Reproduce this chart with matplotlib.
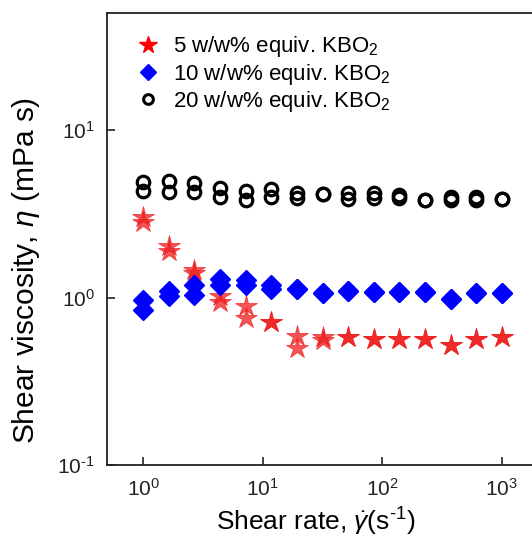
import numpy as np
import matplotlib
matplotlib.use('Agg')
import matplotlib.pyplot as plt
from matplotlib.lines import Line2D
from matplotlib.ticker import LogLocator, NullLocator, FuncFormatter

plt.rcParams['font.family'] = ['Liberation Sans', 'DejaVu Sans']
plt.rcParams['mathtext.fontset'] = 'custom'
plt.rcParams['mathtext.rm'] = 'Liberation Sans'
plt.rcParams['mathtext.it'] = 'Liberation Sans:italic'

# shear rate (1/s)
shear_rate = [1.0, 1.64, 2.68, 4.39, 7.2, 11.8, 19.3, 31.6, 51.8, 84.8,
              139, 228, 373, 611, 1000]

# viscosity (mPa s), two repeat runs per concentration
kbo2_5_a = [3.05, 2.04, 1.47, 1.02, 0.89, 0.72, 0.59, 0.58, 0.58, 0.57,
            0.57, 0.57, 0.52, 0.57, 0.58]
kbo2_5_b = [2.84, 1.90, 1.41, 0.94, 0.76, 0.72, 0.50, 0.56, 0.58, 0.57,
            0.57, 0.57, 0.52, 0.57, 0.58]
kbo2_10_a = [0.97, 1.09, 1.19, 1.29, 1.28, 1.19, 1.12, 1.07, 1.09, 1.08,
             1.08, 1.08, 0.98, 1.07, 1.07]
kbo2_10_b = [0.85, 1.02, 1.04, 1.19, 1.19, 1.12, 1.12, 1.07, 1.09, 1.08,
             1.08, 1.08, 0.98, 1.07, 1.07]
kbo2_20_a = [4.92, 4.97, 4.86, 4.50, 4.35, 4.44, 4.20, 4.14, 4.20, 4.20,
             4.10, 3.83, 4.00, 4.00, 3.86]
kbo2_20_b = [4.35, 4.29, 4.29, 4.00, 3.83, 4.00, 3.92, 4.14, 3.86, 3.92,
             3.92, 3.83, 3.83, 3.83, 3.86]

labels = [r'5 w/w% equiv. KBO$_2$', r'10 w/w% equiv. KBO$_2$',
          r'20 w/w% equiv. KBO$_2$']


def pow10(v, pos):
    e = int(round(np.log10(v)))
    return r'10$^{\text{%d}}$' % e


fig = plt.figure(figsize=(5.32, 5.45), dpi=100)
ax = fig.add_axes([0.2017, 0.1462, 0.849, 0.830])

for ys in (kbo2_5_a, kbo2_5_b):
    ax.plot(shear_rate, ys, linestyle='none', marker='*', markersize=16,
            color='#ee1c1c', alpha=0.75, markeredgewidth=0.6)
for ys in (kbo2_10_a, kbo2_10_b):
    ax.plot(shear_rate, ys, linestyle='none', marker='D', markersize=10,
            color='blue')
for ys in (kbo2_20_a, kbo2_20_b):
    ax.plot(shear_rate, ys, linestyle='none', marker='o', markersize=9,
            markerfacecolor='none', markeredgecolor='black',
            markeredgewidth=2.3)

ax.set_xscale('log')
ax.set_yscale('log')
ax.set_xlim(0.5, 3000)
ax.set_ylim(0.1, 50)
ax.xaxis.set_major_locator(LogLocator(base=10, numticks=10))
ax.yaxis.set_major_locator(LogLocator(base=10, numticks=10))
ax.xaxis.set_minor_locator(NullLocator())
ax.yaxis.set_minor_locator(NullLocator())
ax.xaxis.set_major_formatter(FuncFormatter(pow10))
ax.yaxis.set_major_formatter(FuncFormatter(pow10))
ax.tick_params(direction='in', length=6, width=1.2, labelsize=15,
               colors='#222222', pad=9)
for s in ax.spines.values():
    s.set_linewidth(1.3)
    s.set_color('#222222')

ax.set_xlabel(r'Shear rate, $\dot{\gamma}$(s$^{\text{-1}}$)', fontsize=19)
ax.set_ylabel(r'Shear viscosity, $\eta$ (mPa s)', fontsize=21.5)
ax.xaxis.set_label_coords(0.462, -0.09)
ax.yaxis.set_label_coords(-0.145, 0.43)

handles = [
    Line2D([], [], linestyle='none', marker='*', markersize=13, color='red'),
    Line2D([], [], linestyle='none', marker='D', markersize=8, color='blue'),
    Line2D([], [], linestyle='none', marker='o', markersize=7,
           markerfacecolor='none', markeredgecolor='black', markeredgewidth=2.2),
]
ax.legend(handles, labels, loc='upper left', bbox_to_anchor=(0.017, 0.997),
          frameon=False, fontsize=16, labelspacing=0.1, handletextpad=0.5,
          handlelength=1.2)

fig.savefig('out.png', dpi=100)
